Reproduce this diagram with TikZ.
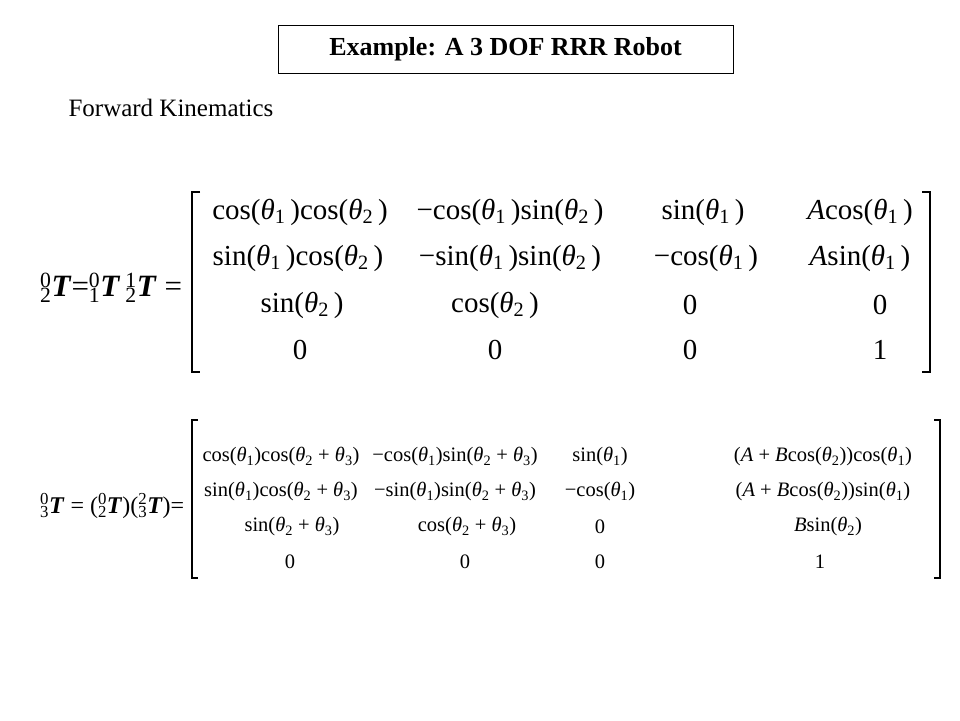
\documentclass[tikz,border=0pt]{standalone}
\usepackage{fontspec}
\setmainfont{Liberation Serif}
\usepackage{tikz}
\usetikzlibrary{positioning}
\newcommand{\tht}[1]{\textit{θ}\textsubscript{#1}\,}
\newcommand{\ths}[1]{\textit{θ}\textsubscript{#1}}
\newcommand{\pT}[2]{\rlap{\textsuperscript{#1}}\textsubscript{#2}\textbf{\textit{T}}}
\tikzset{
	big/.style={font=\fontsize{29}{31}\selectfont, inner sep=0pt},
	small/.style={font=\fontsize{20.5}{22}\selectfont, inner sep=0pt},
	brk/.style={line width=1.6pt}
}
\begin{document}
\begin{tikzpicture}[x=1pt, y=-1pt]
	\useasboundingbox[fill=white] (0,0) rectangle (960,720);
	% Title
	\node[draw, line width=1pt, minimum width=455pt, minimum height=48pt,
		font=\bfseries\fontsize{26}{28}\selectfont] (title) at (505.5,49) {Example: A 3 DOF RRR Robot};
	\node[anchor=west, font=\fontsize{25}{27}\selectfont] (fk) at (65,108) {Forward Kinematics};
	
	% First equation
	\node[anchor=west, inner sep=0pt, font=\fontsize{31}{33}\selectfont] (lhsA) at (40,288) {\pT02=\pT01\,\pT12 =};
	\draw[brk] (200,192) -- (192,192) -- (192,372) -- (200,372);
	\draw[brk] (922,192) -- (930,192) -- (930,372) -- (922,372);
	\node[big] (a11) at (300,212) {cos(\tht1)cos(\tht2)};
	\node[big] (a12) at (510,212) {−cos(\tht1)sin(\tht2)};
	\node[big] (a13) at (703,212) {sin(\tht1)};
	\node[big] (a14) at (860,212) {\textit{A}cos(\tht1)};
	\node[big] (a21) at (298,258) {sin(\tht1)cos(\tht2)};
	\node[big] (a22) at (510,258) {−sin(\tht1)sin(\tht2)};
	\node[big] (a23) at (706,258) {−cos(\tht1)};
	\node[big] (a24) at (860,258) {\textit{A}sin(\tht1)};
	\node[big] (a31) at (302,305) {sin(\tht2)};
	\node[big] (a32) at (495,305) {cos(\tht2)};
	\node[big] (a33) at (690,305) {0};
	\node[big] (a34) at (880,305) {0};
	\node[big] (a41) at (300,350) {0};
	\node[big] (a42) at (495,350) {0};
	\node[big] (a43) at (690,350) {0};
	\node[big] (a44) at (880,350) {1};
	
	% Second equation
	\node[anchor=west, inner sep=0pt, font=\fontsize{24}{26}\selectfont] (lhsB) at (40,506) {\pT03 = (\pT02)(\pT23)=};
	\draw[brk] (198,420) -- (192,420) -- (192,578) -- (198,578);
	\draw[brk] (934,420) -- (940,420) -- (940,578) -- (934,578);
	\node[small] (b11) at (281,457) {cos(\ths1)cos(\ths2 + \ths3)};
	\node[small] (b12) at (455,457) {−cos(\ths1)sin(\ths2 + \ths3)};
	\node[small] (b13) at (600,457) {sin(\ths1)};
	\node[small] (b14) at (823,457) {(\textit{A} + \textit{B}cos(\ths2))cos(\ths1)};
	\node[small] (b21) at (281,492) {sin(\ths1)cos(\ths2 + \ths3)};
	\node[small] (b22) at (455,492) {−sin(\ths1)sin(\ths2 + \ths3)};
	\node[small] (b23) at (600,492) {−cos(\ths1)};
	\node[small] (b24) at (823,492) {(\textit{A} + \textit{B}cos(\ths2))sin(\ths1)};
	\node[small] (b31) at (292,527) {sin(\ths2 + \ths3)};
	\node[small] (b32) at (467,527) {cos(\ths2 + \ths3)};
	\node[small] (b33) at (600,527) {0};
	\node[small] (b34) at (828,527) {\textit{B}sin(\ths2)};
	\node[small] (b41) at (290,562) {0};
	\node[small] (b42) at (465,562) {0};
	\node[small] (b43) at (600,562) {0};
	\node[small] (b44) at (820,562) {1};
\end{tikzpicture}
\end{document}
